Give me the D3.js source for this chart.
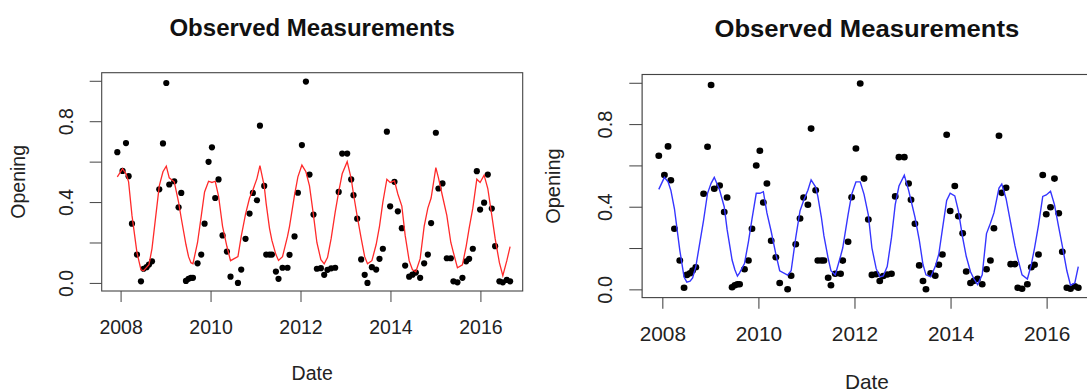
<html>
<head>
<meta charset="UTF-8">
<title>Observed Measurements</title>
<style>
  body { margin: 0; background: #fff; }
  svg { font-family: "Liberation Sans", Arial, sans-serif; }
  .tick line { stroke: #444; }
</style>
</head>
<body>
<svg id="chart"></svg>
<script src="https://d3js.org/d3.v7.min.js"></script>
<script>
let dates = [
  2007.927, 2008.044, 2008.120, 2008.178, 2008.253, 2008.364, 2008.453, 2008.511, 2008.578, 2008.631,
  2008.698, 2008.860, 2008.942, 2009.016, 2009.082, 2009.193, 2009.289, 2009.349, 2009.453, 2009.511,
  2009.564, 2009.609, 2009.711, 2009.793, 2009.867, 2009.956, 2010.031, 2010.104, 2010.178, 2010.267,
  2010.364, 2010.444, 2010.609, 2010.682, 2010.778, 2010.867, 2010.942, 2011.031, 2011.098, 2011.193,
  2011.238, 2011.311, 2011.364, 2011.453, 2011.511, 2011.600, 2011.711, 2011.756, 2011.867, 2011.942,
  2012.031, 2012.120, 2012.200, 2012.289, 2012.364, 2012.453, 2012.527, 2012.600, 2012.682, 2012.771,
  2012.849, 2012.927, 2013.038, 2013.127, 2013.178, 2013.260, 2013.349, 2013.427, 2013.489, 2013.587,
  2013.682, 2013.756, 2013.831, 2013.920, 2013.993, 2014.089, 2014.164, 2014.253, 2014.327, 2014.416,
  2014.489, 2014.564, 2014.660, 2014.749, 2014.831, 2014.904, 2015.009, 2015.067, 2015.156, 2015.253,
  2015.342, 2015.400, 2015.489, 2015.600, 2015.682, 2015.749, 2015.831, 2015.920, 2015.993, 2016.082,
  2016.164, 2016.253, 2016.327, 2016.422, 2016.498, 2016.587, 2016.660
];

// observed opening (black dots)
let observed = [
  0.647, 0.554, 0.692, 0.528, 0.293, 0.14, 0.008, 0.07, 0.078, 0.091,
  0.107, 0.463, 0.69, 0.989, 0.487, 0.503, 0.374, 0.445, 0.01, 0.02,
  0.025, 0.025, 0.097, 0.14, 0.293, 0.599, 0.671, 0.42, 0.512, 0.235,
  0.155, 0.031, 0.0, 0.066, 0.218, 0.343, 0.445, 0.409, 0.778, 0.48,
  0.14, 0.14, 0.14, 0.056, 0.02, 0.075, 0.075, 0.139, 0.23, 0.446,
  0.682, 0.996, 0.536, 0.338, 0.07, 0.073, 0.04, 0.065, 0.072, 0.075,
  0.45, 0.64, 0.64, 0.512, 0.434, 0.318, 0.116, 0.04, 0.0, 0.078,
  0.066, 0.119, 0.169, 0.748, 0.379, 0.5, 0.354, 0.271, 0.086, 0.031,
  0.041, 0.051, 0.025, 0.097, 0.14, 0.296, 0.743, 0.467, 0.492, 0.122,
  0.122, 0.008, 0.003, 0.025, 0.107, 0.119, 0.169, 0.553, 0.363, 0.397,
  0.536, 0.368, 0.182, 0.008, 0.003, 0.015, 0.008
];

// fitted values, left panel (red)
let fitRed = [
  0.525, 0.565, 0.54, 0.5, 0.334, 0.15, 0.065, 0.06, 0.077, 0.09,
  0.17, 0.48, 0.55, 0.578, 0.52, 0.5, 0.4, 0.32, 0.19, 0.13,
  0.1, 0.095, 0.2, 0.33, 0.45, 0.503, 0.497, 0.503, 0.43, 0.28,
  0.18, 0.11, 0.13, 0.23, 0.34, 0.42, 0.46, 0.516, 0.58, 0.48,
  0.39, 0.27, 0.21, 0.14, 0.111, 0.13, 0.23, 0.28, 0.434, 0.525,
  0.583, 0.55, 0.48, 0.334, 0.2, 0.115, 0.094, 0.125, 0.22, 0.35,
  0.45, 0.54, 0.6, 0.516, 0.44, 0.33, 0.22, 0.13, 0.095, 0.11,
  0.19, 0.28, 0.4, 0.513, 0.497, 0.505, 0.44, 0.38, 0.235, 0.11,
  0.065, 0.055, 0.12, 0.28, 0.37, 0.42, 0.57, 0.52, 0.43, 0.334,
  0.2, 0.15, 0.075, 0.09, 0.18, 0.27, 0.37, 0.513, 0.497, 0.533,
  0.467, 0.334, 0.22, 0.1, 0.036, 0.11, 0.18
];

// fitted values, right panel (blue)
let fitBlue = [
  0.484, 0.542, 0.52, 0.48, 0.39, 0.19, 0.06, 0.035, 0.04, 0.055,
  0.11, 0.335, 0.465, 0.513, 0.542, 0.481, 0.4, 0.29, 0.142, 0.095,
  0.064, 0.08, 0.125, 0.23, 0.34, 0.465, 0.465, 0.473, 0.37, 0.28,
  0.17, 0.09, 0.069, 0.09, 0.25, 0.38, 0.43, 0.48, 0.53, 0.495,
  0.45, 0.35, 0.26, 0.15, 0.09, 0.07, 0.16, 0.2, 0.36, 0.46,
  0.52, 0.52, 0.46, 0.36, 0.2, 0.1, 0.06, 0.065, 0.11, 0.25,
  0.41, 0.5, 0.553, 0.48, 0.43, 0.35, 0.24, 0.12, 0.07, 0.06,
  0.11, 0.17, 0.29, 0.43, 0.465, 0.452, 0.38, 0.25, 0.16, 0.085,
  0.05, 0.023, 0.07, 0.27, 0.32, 0.37, 0.49, 0.51, 0.44, 0.32,
  0.21, 0.15, 0.07, 0.05, 0.12, 0.2, 0.31, 0.45, 0.457, 0.475,
  0.41, 0.3, 0.21, 0.09, 0.02, 0.03, 0.11
];

let xTicks = [2008, 2010, 2012, 2014, 2016];
let yTicks = [0, 0.2, 0.4, 0.6, 0.8, 1.0];
let yTickLabels = ["0.0", "", "0.4", "", "0.8", ""];

let width = 1087, height = 391;
let svg = d3.select("#chart")
    .attr("width", width)
    .attr("height", height);

// plot box (R plot region)
let box = {left: 101.7, right: 522.7, top: 72.7, bottom: 291};

let x = d3.scaleLinear().domain([2007.58, 2016.94]).range([box.left, box.right]);
let y = d3.scaleLinear().domain([-0.04, 1.04]).range([box.bottom, box.top]);

let obs = dates.map((d, i) => ({t: d, v: observed[i]}));

function drawPanel(g, fit, color, r) {
  let midX = (box.left + box.right) / 2;
  let midY = (box.top + box.bottom) / 2;

  g.append("text")
    .attr("x", midX).attr("y", 36)
    .attr("text-anchor", "middle")
    .attr("font-size", "24px")
    .attr("font-weight", "bold")
    .attr("fill", "#111")
    .text("Observed Measurements");

  // x axis
  let xAxis = g.append("g")
    .attr("transform", "translate(0," + box.bottom + ")")
    .call(d3.axisBottom(x).tickValues(xTicks).tickSize(11).tickPadding(18).tickFormat(d3.format("d")));
  xAxis.select(".domain").remove();
  xAxis.selectAll("text").attr("font-size", "19.5px").attr("fill", "#222").attr("font-family", null);

  // y axis, labels turned like R
  let yAxis = g.append("g")
    .attr("transform", "translate(" + box.left + ",0)")
    .call(d3.axisLeft(y).tickValues(yTicks).tickSize(12).tickFormat((d, i) => yTickLabels[i]));
  yAxis.select(".domain").remove();
  yAxis.selectAll("text")
    .attr("x", null).attr("dy", null)
    .attr("text-anchor", "middle")
    .attr("transform", "translate(-28.5,0) rotate(-90)")
    .attr("font-size", "19.5px").attr("fill", "#222").attr("font-family", null);

  g.append("text")
    .attr("x", midX).attr("y", 380)
    .attr("text-anchor", "middle")
    .attr("font-size", "19.5px")
    .attr("fill", "#222")
    .text("Date");

  g.append("text")
    .attr("transform", "translate(25," + midY + ") rotate(-90)")
    .attr("text-anchor", "middle")
    .attr("font-size", "19.5px")
    .attr("fill", "#222")
    .text("Opening");

  g.append("rect")
    .attr("x", box.left).attr("y", box.top)
    .attr("width", box.right - box.left).attr("height", box.bottom - box.top)
    .attr("fill", "none").attr("stroke", "#444").attr("stroke-width", 1.1);

  g.append("g").selectAll("circle")
    .data(obs)
    .enter()
    .append("circle")
    .attr("cx", d => x(d.t))
    .attr("cy", d => y(d.v))
    .attr("r", r)
    .attr("fill", "#000");

  let line = d3.line().x(d => x(d.t)).y(d => y(d.v));
  g.append("path")
    .datum(dates.map((d, i) => ({t: d, v: fit[i]})))
    .attr("d", line)
    .attr("fill", "none")
    .attr("stroke", color)
    .attr("stroke-width", 1.3);
}

drawPanel(svg.append("g"), fitRed, "#ff2a2a", 3.1);

// the right copy is the same plot, stretched a little
drawPanel(svg.append("g").attr("transform", "translate(533.5,0.2) scale(1.068,1.022)"), fitBlue, "#3535ff", 3.2);
</script>
</body>
</html>
